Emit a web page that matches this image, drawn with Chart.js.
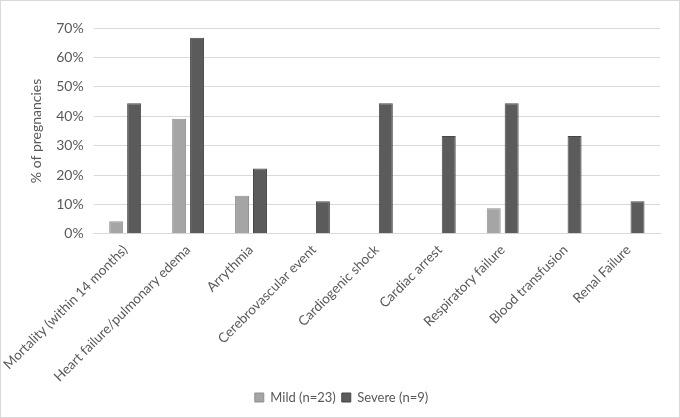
<!DOCTYPE html>
<html>
<head>
<meta charset="utf-8">
<script src="https://cdn.jsdelivr.net/npm/chart.js@4"></script>
<style>
  html, body { margin: 0; padding: 0; background: #fff; }
  #wrap { position: relative; width: 678px; height: 416px; border: 1px solid #d9d9d9; }
</style>
</head>
<body>
<div id="wrap"><canvas id="chart"></canvas></div>
<script>
const categories = [
  'Mortality (within 14 months)',
  'Heart failure/pulmonary edema',
  'Arrythmia',
  'Cerebrovascular event',
  'Cardiogenic shock',
  'Cardiac arrest',
  'Respiratory failure',
  'Blood transfusion',
  'Renal Failure'
];
const mild = [4.3, 39.1, 13.0, 0, 0, 0, 8.7, 0, 0];
const severe = [44.4, 66.7, 22.2, 11.1, 44.4, 33.3, 44.4, 33.3, 11.1];
const seriesLabels = ['Mild (n=23)', 'Severe (n=9)'];

const textColor = '#595959';
const fontFamily = 'Lato, "Open Sans", sans-serif';

const ctx = document.getElementById('chart').getContext('2d');
new Chart(ctx, {
  type: 'bar',
  data: {
    labels: categories,
    datasets: [
      {
        label: seriesLabels[0],
        data: mild,
        backgroundColor: '#a5a5a5',
        borderColor: '#8f8f8f',
        borderWidth: 1
      },
      {
        label: seriesLabels[1],
        data: severe,
        backgroundColor: '#5b5b5b',
        borderColor: '#474747',
        borderWidth: 1
      }
    ]
  },
  options: {
    responsive: true,
    maintainAspectRatio: false,
    animation: false,
    layout: { padding: { top: 27, right: 19, left: 22, bottom: 3 } },
    datasets: {
      bar: { categoryPercentage: 0.57, barPercentage: 0.78 }
    },
    plugins: {
      legend: {
        position: 'bottom',
        labels: {
          color: textColor,
          font: { family: fontFamily, size: 13 },
          boxWidth: 9,
          boxHeight: 9,
          padding: 6
        }
      },
      tooltip: { enabled: false }
    },
    scales: {
      x: {
        grid: { display: false },
        border: { color: '#d9d9d9' },
        ticks: {
          color: textColor,
          font: { family: fontFamily, size: 13.5 },
          minRotation: 45,
          maxRotation: 45,
          padding: 0
        }
      },
      y: {
        min: 0,
        max: 70,
        grid: { color: '#d9d9d9', drawTicks: false },
        border: { display: false },
        ticks: {
          stepSize: 10,
          color: textColor,
          font: { family: fontFamily, size: 14 },
          padding: 10,
          callback: v => v + '%'
        },
        title: {
          display: true,
          text: '% of pregnancies',
          color: textColor,
          font: { family: fontFamily, size: 14 },
          padding: { top: 0, bottom: 1 }
        }
      }
    }
  }
});
</script>
</body>
</html>
